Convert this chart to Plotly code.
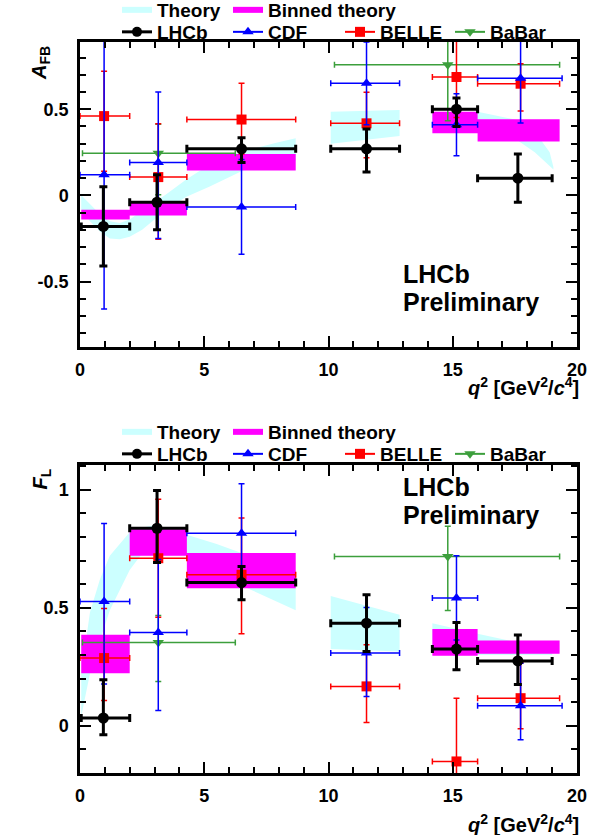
import plotly.graph_objects as go

# ---------------- data ----------------
# LHCb
q_lhcb = [0.94, 3.1, 6.5, 11.53, 15.15, 17.62]
lo_lhcb = [0.05, 2.0, 4.3, 10.09, 14.18, 16.0]
hi_lhcb = [2.0, 4.3, 8.68, 12.86, 16.0, 19.0]
afb_lhcb = [-0.18, -0.04, 0.27, 0.27, 0.50, 0.10]
afb_lhcb_up = [0.23, 0.16, 0.065, 0.115, 0.065, 0.14]
afb_lhcb_dn = [0.23, 0.16, 0.08, 0.135, 0.10, 0.14]
fl_lhcb = [0.033, 0.837, 0.607, 0.435, 0.325, 0.275]
fl_lhcb_up = [0.162, 0.16, 0.068, 0.12, 0.113, 0.11]
fl_lhcb_dn = [0.071, 0.145, 0.073, 0.12, 0.088, 0.10]

# CDF
q_cdf = [0.97, 3.15, 6.5, 11.53, 15.15, 17.73]
lo_cdf = [0.0, 2.0, 4.3, 10.09, 14.18, 16.0]
hi_cdf = [2.0, 4.3, 8.68, 12.86, 16.0, 19.4]
afb_cdf = [0.12, 0.19, -0.067, 0.65, 0.41, 0.68]
afb_cdf_up = [0.78, 0.41, 0.275, 0.24, 0.18, 0.26]
afb_cdf_dn = [0.78, 0.44, 0.275, 0.24, 0.18, 0.26]
fl_cdf = [0.527, 0.395, 0.816, 0.308, 0.541, 0.085]
fl_cdf_up = [0.33, 0.31, 0.21, 0.193, 0.18, 0.18]
fl_cdf_dn = [0.35, 0.33, 0.21, 0.184, 0.177, 0.144]

# BELLE
q_belle = [0.97, 3.15, 6.5, 11.53, 15.15, 17.73]
lo_belle = [0.0, 2.0, 4.3, 10.09, 14.18, 16.0]
hi_belle = [2.0, 4.3, 8.68, 12.86, 16.0, 19.3]
afb_belle = [0.46, 0.106, 0.44, 0.418, 0.687, 0.648]
afb_belle_up = [0.26, 0.31, 0.21, 0.18, 0.25, 0.116]
afb_belle_dn = [0.32, 0.36, 0.20, 0.20, 0.235, 0.159]
fl_belle = [0.287, 0.71, 0.64, 0.167, -0.151, 0.117]
fl_belle_up = [0.21, 0.25, 0.24, 0.176, 0.268, 0.15]
fl_belle_dn = [0.18, 0.25, 0.25, 0.153, 0.30, 0.13]

# BaBar
q_babar = [3.15, 14.8]
lo_babar = [0.1, 10.24]
hi_babar = [6.25, 19.3]
afb_babar = [0.245, 0.758]
afb_babar_up = [0.167, 0.20]
afb_babar_dn = [0.241, 0.325]
fl_babar = [0.353, 0.717]
fl_babar_up = [0.114, 0.128]
fl_babar_dn = [0.165, 0.228]

# Binned theory
bin_lo = [0.05, 2.0, 4.3, 14.18, 16.0]
bin_hi = [2.0, 4.3, 8.68, 16.0, 19.3]
afb_bin_lo = [-0.14, -0.117, 0.144, 0.36, 0.312]
afb_bin_hi = [-0.083, -0.044, 0.24, 0.485, 0.441]
fl_bin_lo = [0.223, 0.72, 0.583, 0.297, 0.305]
fl_bin_hi = [0.386, 0.833, 0.732, 0.41, 0.361]

# Theory band (AFB), three q segments
afb_th_q1 = [0.05, 0.4, 0.8, 1.2, 1.6, 2.0, 2.5, 3.0, 3.5, 4.26, 5.2, 6.5, 7.9, 8.68]
afb_th_up1 = [0.00, -0.05, -0.11, -0.15, -0.16, -0.14, -0.09, -0.04, 0.01, 0.09, 0.177, 0.254, 0.306, 0.331]
afb_th_dn1 = [-0.08, -0.15, -0.21, -0.25, -0.255, -0.24, -0.20, -0.14, -0.08, -0.01, 0.05, 0.14, 0.19, 0.20]
afb_th_q2 = [10.09, 12.86]
afb_th_up2 = [0.485, 0.495]
afb_th_dn2 = [0.30, 0.344]
afb_th_q3 = [14.18, 16.0, 17.5, 18.3, 18.9, 19.05]
afb_th_up3 = [0.48, 0.485, 0.44, 0.37, 0.25, 0.165]
afb_th_dn3 = [0.40, 0.40, 0.33, 0.25, 0.17, 0.15]

# Theory band (FL)
fl_th_q1 = [0.05, 0.4, 0.8, 1.2, 2.0, 2.5, 3.0, 4.26, 5.5, 6.8, 8.68]
fl_th_up1 = [0.22, 0.48, 0.62, 0.72, 0.82, 0.84, 0.85, 0.81, 0.77, 0.72, 0.66]
fl_th_dn1 = [0.04, 0.22, 0.36, 0.49, 0.66, 0.73, 0.75, 0.72, 0.65, 0.58, 0.49]
fl_th_q2 = [10.09, 12.86]
fl_th_up2 = [0.55, 0.47]
fl_th_dn2 = [0.325, 0.315]
fl_th_q3 = [14.18, 16.0, 17.3, 19.0]
fl_th_up3 = [0.435, 0.39, 0.36, 0.33]
fl_th_dn3 = [0.31, 0.30, 0.30, 0.30]

# ---------------- styling ----------------
FONT = "Liberation Sans"
C_TH = "#ccffff"
C_BIN = "#ff00ff"
C_LHCB = "black"
C_CDF = "#0000ff"
C_BELLE = "#ff0000"
C_BABAR = "#3c9f3c"

fig = go.Figure()


def band(segs):
    xs, ys = [], []
    for q, up, dn in segs:
        xs += list(q) + list(q[::-1]) + [q[0], None]
        ys += list(up) + list(dn[::-1]) + [up[0], None]
    return xs, ys


def boxes(lo, hi, ylo, yhi):
    xs, ys = [], []
    for a, b, c, d in zip(lo, hi, ylo, yhi):
        xs += [a, b, b, a, a, None]
        ys += [c, c, d, d, c, None]
    return xs, ys


def series(q, lo, hi, v, up, dn, color, symbol, lw, cap, msize, xa, ya):
    fig.add_trace(go.Scatter(
        x=q, y=v, mode="markers", xaxis=xa, yaxis=ya, showlegend=False,
        marker=dict(color=color, symbol=symbol, size=msize),
        error_x=dict(type="data", symmetric=False,
                     array=[h - x for h, x in zip(hi, q)],
                     arrayminus=[x - l for x, l in zip(q, lo)],
                     color=color, thickness=lw, width=cap),
        error_y=dict(type="data", symmetric=False, array=up, arrayminus=dn,
                     color=color, thickness=lw, width=cap),
    ))


panels = [
    ("x", "y",
     [(afb_th_q1, afb_th_up1, afb_th_dn1), (afb_th_q2, afb_th_up2, afb_th_dn2), (afb_th_q3, afb_th_up3, afb_th_dn3)],
     (afb_bin_lo, afb_bin_hi),
     [(q_babar, lo_babar, hi_babar, afb_babar, afb_babar_up, afb_babar_dn),
      (q_belle, lo_belle, hi_belle, afb_belle, afb_belle_up, afb_belle_dn),
      (q_cdf, lo_cdf, hi_cdf, afb_cdf, afb_cdf_up, afb_cdf_dn),
      (q_lhcb, lo_lhcb, hi_lhcb, afb_lhcb, afb_lhcb_up, afb_lhcb_dn)]),
    ("x2", "y2",
     [(fl_th_q1, fl_th_up1, fl_th_dn1), (fl_th_q2, fl_th_up2, fl_th_dn2), (fl_th_q3, fl_th_up3, fl_th_dn3)],
     (fl_bin_lo, fl_bin_hi),
     [(q_babar, lo_babar, hi_babar, fl_babar, fl_babar_up, fl_babar_dn),
      (q_belle, lo_belle, hi_belle, fl_belle, fl_belle_up, fl_belle_dn),
      (q_cdf, lo_cdf, hi_cdf, fl_cdf, fl_cdf_up, fl_cdf_dn),
      (q_lhcb, lo_lhcb, hi_lhcb, fl_lhcb, fl_lhcb_up, fl_lhcb_dn)]),
]
styles = [
    (C_BABAR, "triangle-down", 1.5, 3, 10),
    (C_BELLE, "square", 1.5, 3, 10),
    (C_CDF, "triangle-up", 1.5, 3, 10),
    (C_LHCB, "circle", 3, 4, 11),
]

for xa, ya, segs, (blo, bhi), sers in panels:
    bx, by = band(segs)
    fig.add_trace(go.Scatter(x=bx, y=by, fill="toself", fillcolor=C_TH, mode="none",
                             xaxis=xa, yaxis=ya, showlegend=False, hoverinfo="skip"))
    mx, my = boxes(bin_lo, bin_hi, blo, bhi)
    fig.add_trace(go.Scatter(x=mx, y=my, fill="toself", fillcolor=C_BIN, mode="none",
                             xaxis=xa, yaxis=ya, showlegend=False, hoverinfo="skip"))
    for s, st in zip(sers, styles):
        series(*s, *st, xa, ya)

# ---------------- legends (one legend per entry) ----------------
legend_items = [
    ("Theory", "fill", C_TH, None, 1),
    ("Binned theory", "fill", C_BIN, None, 1),
    ("LHCb", "line", C_LHCB, "circle", 3),
    ("CDF", "line", C_CDF, "triangle-up", 2),
    ("BELLE", "line", C_BELLE, "square", 2),
    ("BaBar", "line", C_BABAR, "triangle-down", 2),
]
item_x = [122, 233, 122, 233, 345, 455]
item_row = [0, 0, 1, 1, 1, 1]

W, H = 592, 835
ML, MR, MT, MB = 80, 15, 42, 62
PW = W - ML - MR
PH = H - MT - MB


def px_x(p):
    return (p - ML) / PW


def px_y(p):
    return (H - MB - p) / PH


legend_layout = {}
n = 0
for panel, row_y in [(0, (10, 32)), (1, (432, 454))]:
    for (name, kind, color, sym, lw), ix, r in zip(legend_items, item_x, item_row):
        n += 1
        lname = "legend" if n == 1 else f"legend{n}"
        if kind == "fill":
            tr = go.Scatter(x=[None, None, None], y=[None, None, None], fill="toself",
                            fillcolor=color, mode="none", name=name, legend=lname)
        else:
            tr = go.Scatter(x=[None], y=[None], mode="lines+markers", name=name, legend=lname,
                            line=dict(color=color, width=lw),
                            marker=dict(color=color, symbol=sym, size=10))
        tr.update(xaxis="x" if panel == 0 else "x2", yaxis="y" if panel == 0 else "y2")
        fig.add_trace(tr)
        legend_layout[lname] = dict(
            x=px_x(ix - 5), y=px_y(row_y[r]), xanchor="left", yanchor="middle",
            bgcolor="rgba(0,0,0,0)", borderwidth=0,
            font=dict(family=FONT, size=19, color="black", weight="bold"),
            itemclick=False, itemdoubleclick=False,
        )

# ---------------- axes ----------------
ax_common = dict(
    showline=True, linecolor="black", linewidth=2.5, mirror="allticks",
    ticks="inside", tickwidth=2, tickcolor="black", showgrid=False, zeroline=False,
    tickfont=dict(family=FONT, size=18, color="black", weight="bold"),
    ticklabelstandoff=5,
)
xax = dict(ax_common, range=[0, 20], tickvals=[0, 5, 10, 15, 20], ticklen=11,
           minor=dict(tickmode="linear", tick0=0, dtick=1, ticklen=6, ticks="inside",
                      tickwidth=2, tickcolor="black"))
top_y = dict(ax_common, range=[-0.88, 0.89], tickvals=[-0.5, 0, 0.5], ticktext=["-0.5", "0", "0.5"],
             ticklen=11, domain=[px_y(347), 1.0],
             minor=dict(tickmode="linear", tick0=0, dtick=0.1, ticklen=6, ticks="inside",
                        tickwidth=2, tickcolor="black"))
bot_y = dict(ax_common, range=[-0.2, 1.105], tickvals=[0, 0.5, 1], ticktext=["0", "0.5", "1"],
             ticklen=11, domain=[0, px_y(465)],
             minor=dict(tickmode="linear", tick0=0, dtick=0.1, ticklen=6, ticks="inside",
                        tickwidth=2, tickcolor="black"))

fig.update_layout(
    width=W, height=H, margin=dict(l=ML, r=MR, t=MT, b=MB, autoexpand=False),
    paper_bgcolor="white", plot_bgcolor="white", hovermode=False,
    xaxis=dict(xax, anchor="y"), yaxis=dict(top_y, anchor="x"),
    xaxis2=dict(xax, anchor="y2"), yaxis2=dict(bot_y, anchor="x2"),
    **legend_layout,
)

tfont = dict(family=FONT, size=20, color="black", weight="bold")
bigfont = dict(family=FONT, size=25, color="black", weight="bold")
xtitle = "<i>q</i><sup>2</sup> [GeV<sup>2</sup>/<i>c</i><sup>4</sup>]"
anns = [
    dict(text=xtitle, x=px_x(581), y=px_y(386), xanchor="right", yanchor="middle"),
    dict(text=xtitle, x=px_x(581), y=px_y(823), xanchor="right", yanchor="middle"),
    dict(text="<i>A</i><sub>FB</sub>", x=px_x(41), y=px_y(44), xanchor="center", yanchor="top", textangle=-90),
    dict(text="<i>F</i><sub>L</sub>", x=px_x(41), y=px_y(467), xanchor="center", yanchor="top", textangle=-90),
    dict(text="LHCb", x=px_x(401), y=px_y(274), xanchor="left", yanchor="middle", font=bigfont),
    dict(text="Preliminary", x=px_x(401), y=px_y(302), xanchor="left", yanchor="middle", font=bigfont),
    dict(text="LHCb", x=px_x(401), y=px_y(487), xanchor="left", yanchor="middle", font=bigfont),
    dict(text="Preliminary", x=px_x(401), y=px_y(515), xanchor="left", yanchor="middle", font=bigfont),
]
for a in anns:
    a.setdefault("font", tfont)
    fig.add_annotation(xref="paper", yref="paper", showarrow=False, **a)

fig.write_html("out.html", config={"displayModeBar": False},
               post_script="document.body.style.margin='0px';document.body.style.padding='0px';")
